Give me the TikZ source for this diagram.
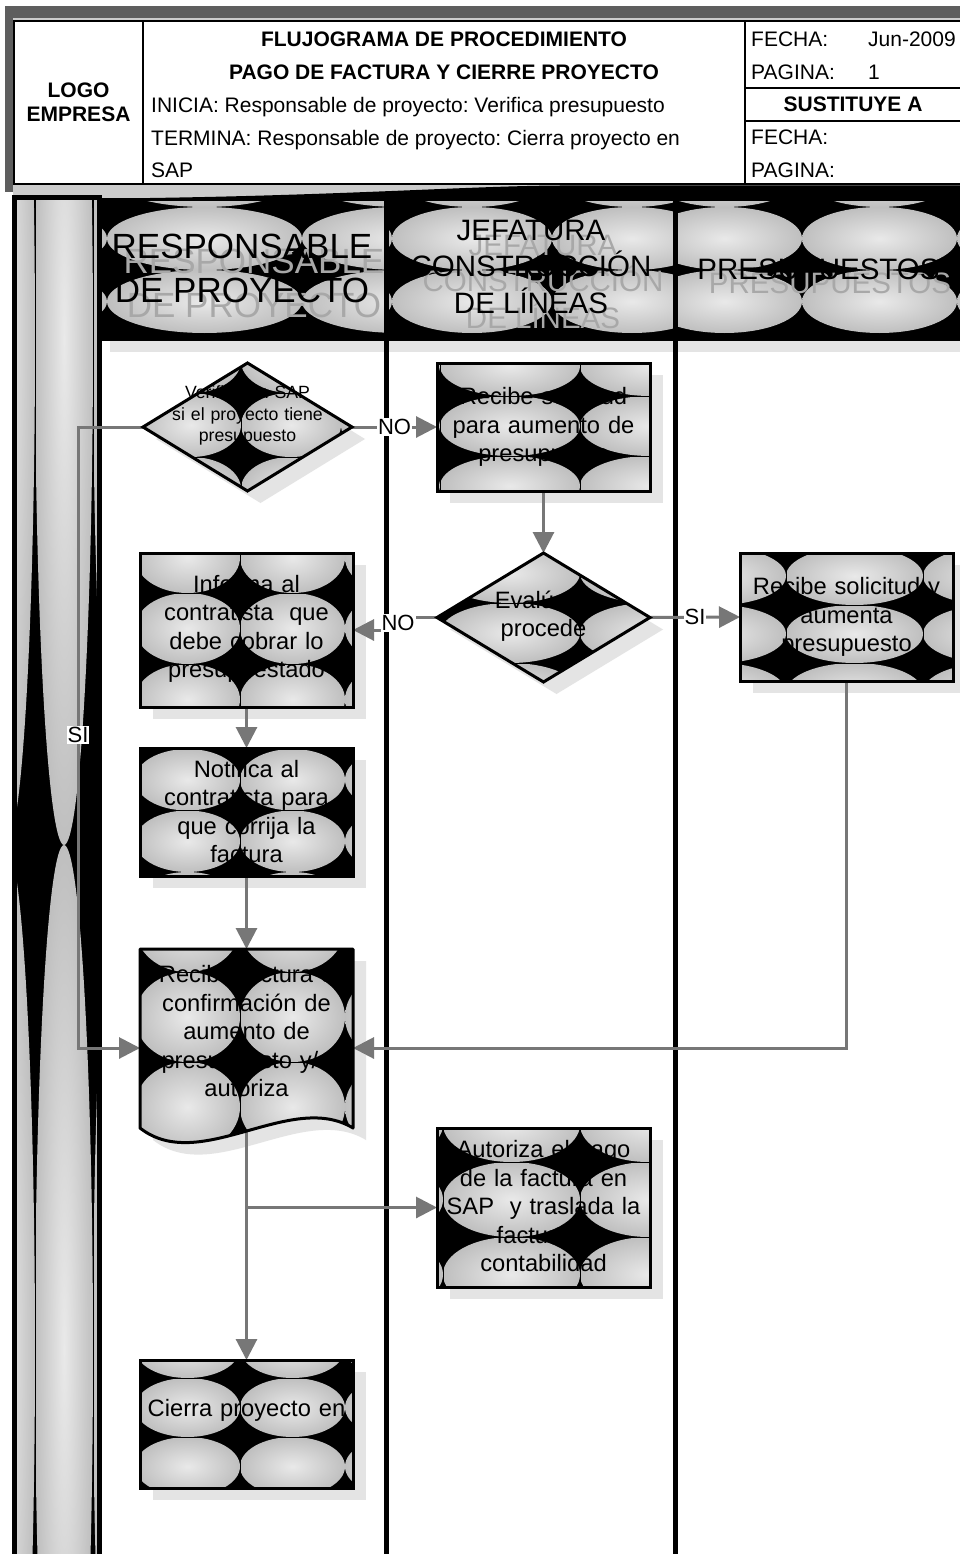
\documentclass[tikz,border=0pt]{standalone}
\usepackage{fontspec}
\setmainfont{Liberation Sans}
\usetikzlibrary{arrows.meta,shapes.geometric}
\pgfdeclarelayer{bg}
\pgfdeclarelayer{conn}
\pgfsetlayers{bg,conn,main}
\definecolor{tl}{HTML}{E9E9E9}
\definecolor{td}{HTML}{BFBFBF}
\definecolor{cgray}{HTML}{777777}
\definecolor{shad}{HTML}{E4E4E4}
\definecolor{ghost}{HTML}{A8A8A8}
\definecolor{framec}{HTML}{5E5E5E}
\definecolor{bandc}{HTML}{CCCCCC}
\newcommand\tilefill[5]{%
  \begin{scope}
    \clip #1;
    \fill[black] (-50,-50) rectangle (1050,1650);
    \foreach \cx in {#2}{\foreach \cy in {#3}{%
      \shade[inner color=tl,outer color=td] (\cx,\cy) ellipse [x radius=#4, y radius=#5];}}
  \end{scope}}
\newcommand\tilelines[3]{%
  \begin{scope}
    \clip #1;
    \foreach \lx in {#2}{\draw[line width=0.8pt] (\lx,-50) -- (\lx,1650);}
    \foreach \ly in {#3}{\draw[line width=0.8pt] (-50,\ly) -- (1050,\ly);}
  \end{scope}}
\tikzset{
  shp/.style={draw=black, line width=3pt, inner sep=0pt, outer sep=0pt},
  anc/.style={inner sep=0pt, outer sep=0pt},
  txt/.style={font=\fontsize{23.7}{28.5}\selectfont, align=center, inner sep=0pt, text width=212pt},
  hr/.style={font=\fontsize{21}{24}\selectfont, inner sep=0pt},
  hb/.style={font=\fontsize{21}{24}\selectfont\bfseries, inner sep=0pt},
  laneA/.style={font=\fontsize{35}{44}\selectfont, align=center, inner sep=0pt},
  laneB/.style={font=\fontsize{29.5}{36.5}\selectfont, align=center, inner sep=0pt},
  conn/.style={draw=cgray, line width=3pt, -{Triangle[length=21pt,width=21pt]}},
  lbl/.style={fill=white, font=\fontsize{22}{24}\selectfont, inner sep=1pt},
}
\begin{document}
\frenchspacing
\begin{tikzpicture}[x=1pt,y=-1pt]
\useasboundingbox (0,0) rectangle (960,1554);
\begin{pgfonlayer}{bg}
\fill[white] (0,0) rectangle (960,1554);
% outer frame
\fill[framec] (5,6) rectangle (962,18);
\fill[framec] (5,6) rectangle (13,192);
\fill[bandc] (13,18) rectangle (962,21);
\fill[white] (14,22) rectangle (962,183);
\draw[line width=2pt] (14,21) rectangle (964,184);
\draw[line width=2pt] (143,21) -- (143,184);
\draw[line width=2pt] (745,21) -- (745,184);
\draw[line width=2pt] (745,88) -- (962,88);
\draw[line width=2pt] (745,121) -- (962,121);
% band under header
\fill[bandc] (13,185) rectangle (962,198);
\fill[black] (150,198) .. controls (350,195) and (470,186) .. (560,185.5) -- (962,185.5) -- (962,198) -- cycle;
% left column
\tilefill{(17,198) rectangle (97,1560)}{6,64,122}{340,1350}{29pt}{505pt}
\tilelines{(17,198) rectangle (97,1560)}{35,93}{-100}
\draw[line width=5pt] (14.5,198) rectangle (99.5,1580);
% lane header shadows
\fill[shad] (110,212) rectangle (396,352);
\fill[shad] (396,212) rectangle (685,352);
\fill[shad] (685,212) rectangle (970,352);
% lane header fills
\tilefill{(100,200) rectangle (386,339)}{9.5,204.5,399.5}{175.5,238.5,301.5}{97.5pt}{31.5pt}
\tilefill{(386,200) rectangle (675,339)}{312,472,632}{175.5,238.5,301.5}{80pt}{31.5pt}
\tilefill{(675,200) rectangle (962,339)}{724.5,879.5,1034.5}{175.5,238.5,301.5}{77.5pt}{31.5pt}
% lane dividers
\draw[line width=5pt] (386,198) -- (386,1580);
\draw[line width=5pt] (675,198) -- (675,1580);
% node shadows
\begin{scope}[shift={(13,12)}]
\fill[shad] (247.5,363) -- (352,427) -- (247.5,491) -- (143,427) -- cycle;
\fill[shad] (437,363) rectangle (650,491);
\fill[shad] (543.5,553) -- (650,617.5) -- (543.5,682) -- (437,617.5) -- cycle;
\fill[shad] (140,553) rectangle (353,707);
\fill[shad] (740,553) rectangle (953,681);
\fill[shad] (140,748) rectangle (353,876);
\fill[shad] (140,949) -- (353,949) -- (353,1128) .. controls (290,1090) and (200,1175) .. (140,1128) -- cycle;
\fill[shad] (437,1128) rectangle (650,1287);
\fill[shad] (140,1360) rectangle (353,1488);
\end{scope}
\end{pgfonlayer}

% header texts
\node[hb, anchor=base] (h1) at (444,46.5) {FLUJOGRAMA DE PROCEDIMIENTO};
\node[hb, anchor=base] (h2) at (444,79.5) {PAGO DE FACTURA Y CIERRE PROYECTO};
\node[hr, anchor=base west] (h3) at (151,112.5) {INICIA: Responsable de proyecto: Verifica presupuesto};
\node[hr, anchor=base west] (h4) at (151,145.5) {TERMINA: Responsable de proyecto: Cierra proyecto en};
\node[hr, anchor=base west] (h5) at (151,177.5) {SAP};
\node[hb, anchor=base] (h6) at (78.5,97.5) {LOGO};
\node[hb, anchor=base] (h7) at (78.5,121.5) {EMPRESA};
\node[hr, anchor=base west] (h8) at (751,46.5) {FECHA:};
\node[hr, anchor=base west] (h9) at (868,46.5) {Jun-2009};
\node[hr, anchor=base west] (h10) at (751,79.5) {PAGINA:};
\node[hr, anchor=base west] (h11) at (868,79.5) {1};
\node[hb, anchor=base] (h12) at (853,112) {SUSTITUYE A};
\node[hr, anchor=base west] (h13) at (751,145) {FECHA:};
\node[hr, anchor=base west] (h14) at (751,177.5) {PAGINA:};

% lane headers
\node[shp, minimum width=286pt, minimum height=139pt] (L1) at (243,269.5) {};
\node[shp, minimum width=289pt, minimum height=139pt] (L2) at (530.5,269.5) {};
\node[shp, minimum width=287pt, minimum height=139pt] (L3) at (818.5,269.5) {};
\node[laneA, text=ghost] (G1) at (254,283.5) {RESPONSABLE\\DE PROYECTO};
\node[laneB, text=ghost] (G2) at (543,281.5) {JEFATURA\\CONSTRUCCIÓN\\DE LÍNEAS};
\node[laneB, text=ghost] (G3) at (830,283) {PRESUPUESTOS};
\node[laneA] (T1) at (242,268) {RESPONSABLE\\DE PROYECTO};
\node[laneB] (T2) at (531,266.5) {JEFATURA\\CONSTRUCCIÓN\\DE LÍNEAS};
\node[laneB] (T3) at (818.5,269) {PRESUPUESTOS};

% shape fills
\tilefill{(247.5,363) -- (352,427) -- (247.5,491) -- (143,427) -- cycle}{91,191,291,391}{361,425,489}{50pt}{32pt}
\tilelines{(247.5,363) -- (352,427) -- (247.5,491) -- (143,427) -- cycle}{241}{393,457}
\tilefill{(437,363) rectangle (650,491)}{370,510,650}{366,426,486}{70pt}{30pt}
\tilelines{(437,363) rectangle (650,491)}{440,580}{396,456}
\tilefill{(543.5,553) -- (650,617.5) -- (543.5,682) -- (437,617.5) -- cycle}{370,510,650}{573,633,693}{70pt}{30pt}
\tilelines{(543.5,553) -- (650,617.5) -- (543.5,682) -- (437,617.5) -- cycle}{440,580}{603,663}
\tilefill{(140,553) rectangle (353,707)}{187.5,292.5,397.5}{557.5,628.5,699.5}{52.5pt}{35.5pt}
\tilelines{(140,553) rectangle (353,707)}{240}{593,664}
\tilefill{(740,553) rectangle (953,681)}{717.5,854.5,991.5}{576,634,692}{68.5pt}{29pt}
\tilelines{(740,553) rectangle (953,681)}{786,923}{605,663}
\tilefill{(140,748) rectangle (353,876)}{187.5,292.5,397.5}{718.25,779.75,841.25,902.75}{52.5pt}{30.75pt}
\tilelines{(140,748) rectangle (353,876)}{240}{810.5}
\tilefill{(140,949) -- (353,949) -- (353,1128) .. controls (290,1090) and (200,1175) .. (140,1128) -- cycle}{187.5,292.5,397.5}{927,1017,1107,1197}{52.5pt}{45pt}
\tilelines{(140,949) -- (353,949) -- (353,1128) .. controls (290,1090) and (200,1175) .. (140,1128) -- cycle}{240}{972,1062}
\tilefill{(437,1128) rectangle (650,1287)}{374.5,511.5,648.5}{1124.5,1199.5,1274.5}{68.5pt}{37.5pt}
\tilelines{(437,1128) rectangle (650,1287)}{443,580}{1162,1237}
\tilefill{(140,1360) rectangle (353,1488)}{187.5,292.5,397.5}{1348.5,1407.5,1466.5}{52.5pt}{29.5pt}
\tilelines{(140,1360) rectangle (353,1488)}{240}{1378,1437}

% shape nodes
\node[shp, diamond, minimum width=209pt, minimum height=128pt] (n1) at (247.5,427) {};
\node[shp, minimum width=213pt, minimum height=128pt] (n2) at (543.5,427) {};
\node[shp, diamond, minimum width=213pt, minimum height=129pt] (n3) at (543.5,617.5) {};
\node[shp, minimum width=213pt, minimum height=154pt] (n4) at (246.5,630) {};
\node[shp, minimum width=213pt, minimum height=128pt] (n5) at (846.5,617) {};
\node[shp, minimum width=213pt, minimum height=128pt] (n6) at (246.5,812) {};
\node[anc, minimum width=213pt, minimum height=198pt] (n7) at (246.5,1048) {};
\draw[line width=3pt, line join=round] (140,949) -- (353,949) -- (353,1128) .. controls (290,1090) and (200,1175) .. (140,1128) -- cycle;
\node[shp, minimum width=213pt, minimum height=159pt] (n8) at (543.5,1207.5) {};
\node[shp, minimum width=213pt, minimum height=128pt] (n9) at (246.5,1424) {};

% texts
\node[txt, font=\fontsize{17.7}{21.5}\selectfont] (t1) at (247.5,415.5) {Verifica en SAP\\si el proyecto tiene\\presupuesto};
\node[txt] (t2) at (543.5,427) {Recibe solicitud\\para aumento de\\presupuesto};
\node[txt] (t3) at (543.5,616) {Evalúa si\\procede};
\node[txt] (t4) at (246.5,629) {Informa al\\contratista\ \ que\\debe cobrar lo\\presupuestado};
\node[txt] (t5) at (846.5,617) {Recibe solicitud y\\aumenta\\presupuesto};
\node[txt] (t6) at (246.5,811.5) {Notifica al\\contratista para\\que corrija la\\factura};
\node[txt] (t7) at (246.5,1031.5) {Recibe factura o\\confirmación de\\aumento de\\presupuesto y/o\\autoriza};
\node[txt] (t8) at (543.5,1206.5) {Autoriza el pago\\de la factura en\\SAP\ \ y traslada la\\factura a\\contabilidad};
\node[txt] (t9) at (246.5,1410) {Cierra proyecto en};

% connectors
\begin{pgfonlayer}{conn}
\draw[conn] (n1.east) -- node[lbl] (lNO1) {NO} (n2.west);
\draw[conn] (n1.west) -- ++(-65,0) |- (n7.west);
\node[lbl] (lSI1) at (78,735) {SI};
\draw[conn] (n2.south) -- (n3.north);
\draw[conn] (n3.west) -- ++(-37,0) |- (n4.east);
\node[lbl] (lNO2) at (398,623) {NO};
\draw[conn] (n3.east) -- node[lbl] (lSI2) {SI} (n5.west);
\draw[conn] (n5.south) |- (n7.east);
\draw[conn] (n4.south) -- (n6.north);
\draw[conn] (n6.south) -- (n7.north);
\draw[conn] (n7.center) -- (n9.north);
\draw[conn] (n7.center |- n8.west) -- (n8.west);
\end{pgfonlayer}
\end{tikzpicture}
\end{document}
